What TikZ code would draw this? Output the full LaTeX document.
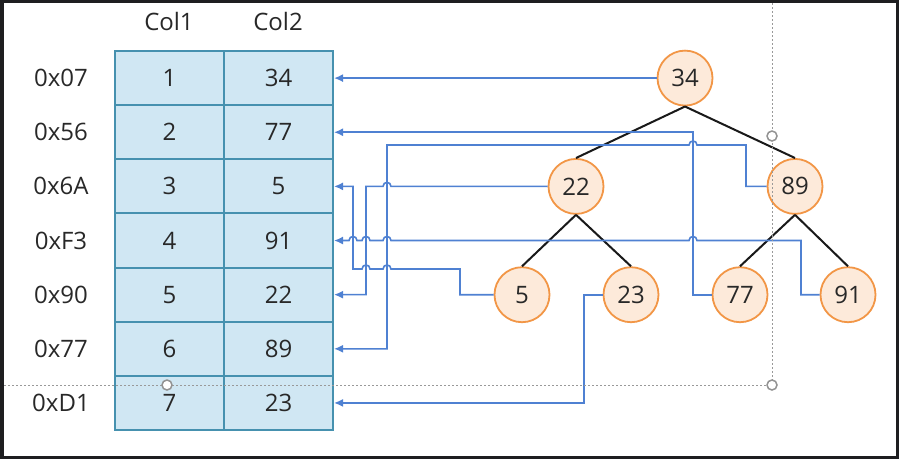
\documentclass[tikz,border=0pt]{standalone}
\usepackage{fontspec}
\setmainfont{Open Sans}
\usetikzlibrary{arrows.meta}
\definecolor{cb}{RGB}{79,129,210}
\definecolor{tblb}{RGB}{70,145,175}
\definecolor{tblf}{RGB}{208,231,243}
\definecolor{orb}{RGB}{242,150,70}
\definecolor{orf}{RGB}{253,234,218}
\definecolor{txt}{RGB}{40,40,40}
\definecolor{frame}{RGB}{30,30,32}
\newcommand\tf{\fontsize{24}{28}\selectfont}
\begin{document}
\begin{tikzpicture}[x=1pt,y=-1pt,
  cell/.style={draw=tblb, fill=tblf, line width=2pt, minimum width=109pt, minimum height=54.14pt, inner sep=0pt, font=\tf, text=txt},
  lbl/.style={font=\tf, text=txt, inner sep=0pt},
  tn/.style={circle, draw=orb, fill=orf, line width=1.8pt, minimum size=55pt, inner sep=0pt, font=\tf, text=txt},
  edge/.style={draw=black!90, line width=2pt},
  conn/.style={draw=cb, line width=1.6pt, -{Latex[length=9pt,width=8pt]}},
  sel/.style={draw=gray!80, line width=0.8pt, dash pattern=on 2pt off 2pt},
  handle/.style={draw=gray!85, line width=1.5pt, fill=white}]
\useasboundingbox (0,0) rectangle (899,459);
\fill[frame] (0,0) rectangle (899,459);
\fill[white] (4,3) rectangle (896,456);
% headers
\node[lbl] (h1) at (169,21) {Col1};
\node[lbl] (h2) at (278,21) {Col2};
% rows
\foreach \i/\a/\b/\c in {1/0x07/1/34, 2/0x56/2/77, 3/0x6A/3/5, 4/0xF3/4/91, 5/0x90/5/22, 6/0x77/6/89, 7/0xD1/7/23} {
  \pgfmathsetmacro\yy{78.1+54.14*(\i-1)}
  \node[lbl] (a\i) at (61,\yy) {\a};
  \node[cell] (l\i) at (169.5,\yy) {\b};
  \node[cell] (r\i) at (278.5,\yy) {\c};
}
% tree
\node[tn] (t34) at (685,78.1) {34};
\node[tn] (t22) at (576,186.4) {22};
\node[tn] (t89) at (795,186.4) {89};
\node[tn] (t5) at (522,294.7) {5};
\node[tn] (t23) at (631,294.7) {23};
\node[tn] (t77) at (740,294.7) {77};
\node[tn] (t91) at (848,294.7) {91};
\draw[edge] (t34.south) -- (t22.north);
\draw[edge] (t34.south) -- (t89.north);
\draw[edge] (t22.south) -- (t5.north);
\draw[edge] (t22.south) -- (t23.north);
\draw[edge] (t89.south) -- (t77.north);
\draw[edge] (t89.south) -- (t91.north);
% connectors
\draw[conn] (t34.west) -- (r1.east);
\draw[conn] (t77.west) -- (693,294.7) |- (r2.east);
\draw[conn] (t89.west) -- (746,186.4) -- (746,145)
  -- (697,145) .. controls (697,139.7) and (689,139.7) .. (689,145)
  -- (387,145) |- (r6.east);
\draw[conn] (t91.west) -- (801,294.7) -- (801,240.5)
  -- (697,240.5) .. controls (697,235.2) and (689,235.2) .. (689,240.5)
  -- (391,240.5) .. controls (391,235.2) and (383,235.2) .. (383,240.5)
  -- (370,240.5) .. controls (370,235.2) and (362,235.2) .. (362,240.5)
  -- (357,240.5) .. controls (357,235.2) and (349,235.2) .. (349,240.5)
  -- (r4.east);
\draw[conn] (t5.west) -- (460,294.7) -- (460,269)
  -- (391,269) .. controls (391,263.7) and (383,263.7) .. (383,269)
  -- (370,269) .. controls (370,263.7) and (362,263.7) .. (362,269)
  -- (353,269) |- (r3.east);
\draw[conn] (t22.west)
  -- (391,186.4) .. controls (391,181.1) and (383,181.1) .. (383,186.4)
  -- (366,186.4) |- (r5.east);
\draw[conn] (t23.west) -- (584,294.7) |- (r7.east);
% selection artefacts
\draw[sel] (4,385) -- (772,385);
\draw[sel] (772,3) -- (772,385);
\draw[handle] (167,385) circle[radius=5];
\draw[handle] (772,136) circle[radius=5];
\draw[handle] (772,385) circle[radius=5];
\end{tikzpicture}
\end{document}
